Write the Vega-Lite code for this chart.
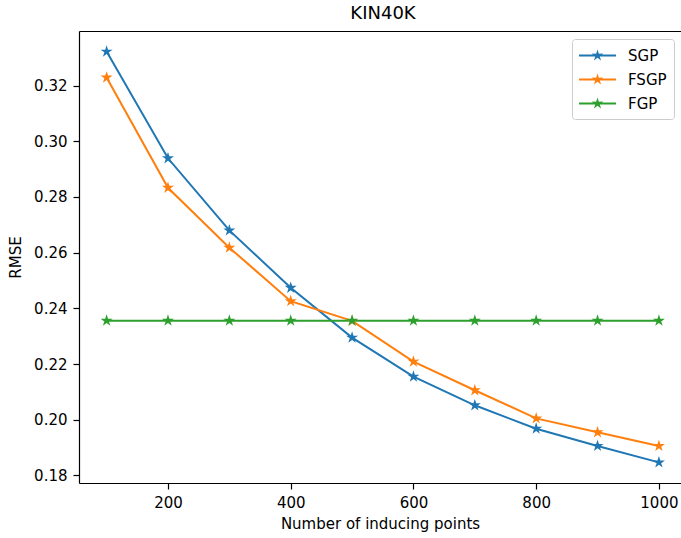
{
  "$schema": "https://vega.github.io/schema/vega-lite/v6.json",
  "width": 602,
  "height": 452,
  "autosize": {"type": "none"},
  "padding": {"left": 79, "top": 31, "right": 0, "bottom": 55},
  "background": "white",
  "title": {"text": "KIN40K", "font": "DejaVu Sans", "fontSize": 18, "fontWeight": "normal", "color": "black", "offset": 8, "dx": 3},
  "config": {
    "view": {"stroke": null},
    "font": "DejaVu Sans",
    "axis": {
      "grid": false,
      "domainColor": "black",
      "domainWidth": 1.2,
      "tickColor": "black",
      "tickWidth": 1.2,
      "tickSize": 6,
      "labelColor": "black",
      "labelFont": "DejaVu Sans",
      "labelFontSize": 15,
      "titleFont": "DejaVu Sans",
      "titleFontSize": 15,
      "titleFontWeight": "normal",
      "titleColor": "black"
    }
  },
  "data": {
    "values": [
      {"n": 100, "method": "SGP", "rmse": 0.3322},
      {"n": 200, "method": "SGP", "rmse": 0.2939},
      {"n": 300, "method": "SGP", "rmse": 0.2680},
      {"n": 400, "method": "SGP", "rmse": 0.2474},
      {"n": 500, "method": "SGP", "rmse": 0.2295},
      {"n": 600, "method": "SGP", "rmse": 0.2155},
      {"n": 700, "method": "SGP", "rmse": 0.2052},
      {"n": 800, "method": "SGP", "rmse": 0.1968},
      {"n": 900, "method": "SGP", "rmse": 0.1906},
      {"n": 1000, "method": "SGP", "rmse": 0.1847},
      {"n": 100, "method": "FSGP", "rmse": 0.3229},
      {"n": 200, "method": "FSGP", "rmse": 0.2833},
      {"n": 300, "method": "FSGP", "rmse": 0.2618},
      {"n": 400, "method": "FSGP", "rmse": 0.2426},
      {"n": 500, "method": "FSGP", "rmse": 0.2355},
      {"n": 600, "method": "FSGP", "rmse": 0.2209},
      {"n": 700, "method": "FSGP", "rmse": 0.2106},
      {"n": 800, "method": "FSGP", "rmse": 0.2005},
      {"n": 900, "method": "FSGP", "rmse": 0.1955},
      {"n": 1000, "method": "FSGP", "rmse": 0.1906},
      {"n": 100, "method": "FGP", "rmse": 0.2356},
      {"n": 200, "method": "FGP", "rmse": 0.2356},
      {"n": 300, "method": "FGP", "rmse": 0.2356},
      {"n": 400, "method": "FGP", "rmse": 0.2356},
      {"n": 500, "method": "FGP", "rmse": 0.2356},
      {"n": 600, "method": "FGP", "rmse": 0.2356},
      {"n": 700, "method": "FGP", "rmse": 0.2356},
      {"n": 800, "method": "FGP", "rmse": 0.2356},
      {"n": 900, "method": "FGP", "rmse": 0.2356},
      {"n": 1000, "method": "FGP", "rmse": 0.2356}
    ]
  },
  "encoding": {
    "y": {
      "field": "rmse", "type": "quantitative",
      "scale": {"domain": [0.1773, 0.3396], "zero": false, "nice": false},
      "axis": {"title": "RMSE", "values": [0.18, 0.20, 0.22, 0.24, 0.26, 0.28, 0.30, 0.32], "format": ".2f", "labelPadding": 6, "titlePadding": 10}
    },
    "color": {
      "field": "method", "type": "nominal",
      "scale": {"domain": ["SGP", "FSGP", "FGP"], "range": ["#1f77b4", "#ff7f0e", "#2ca02c"]},
      "legend": {
        "title": null,
        "orient": "none",
        "legendX": 493,
        "legendY": 8,
        "strokeColor": "#cccccc",
        "fillColor": "white",
        "cornerRadius": 3,
        "padding": 7,
        "labelFont": "DejaVu Sans",
        "labelFontSize": 15,
        "labelColor": "black",
        "symbolType": "M-2,-0.108L2,-0.108L2,0.108L-2,0.108Z M0,-0.66L0.147,-0.202L0.627,-0.205L0.238,0.077L0.387,0.535L0,0.251L-0.387,0.535L-0.238,0.077L-0.627,-0.205L-0.147,-0.202Z",
        "symbolSize": 342,
        "symbolOffset": 9,
        "symbolStrokeWidth": 0,
        "labelOffset": 21,
        "rowPadding": 6,
        "encode": {"symbols": {"update": {"fill": {"scale": "color", "field": "value"}, "strokeWidth": {"value": 0}, "opacity": {"value": 1}}}}
      }
    }
  },
  "layer": [
    {
      "mark": {"type": "line", "strokeWidth": 2},
      "encoding": {
        "x": {
          "field": "n", "type": "quantitative",
          "scale": {"domain": [55, 1036], "nice": false, "zero": false},
          "axis": {"title": "Number of inducing points", "values": [200, 400, 600, 800, 1000], "format": "d", "labelPadding": 6, "titlePadding": 6}
        }
      }
    },
    {
      "mark": {"type": "point", "filled": true, "opacity": 1, "size": 160, "shape": "M0,-1L0.223,-0.307L0.951,-0.309L0.361,0.117L0.588,0.809L0,0.38L-0.588,0.809L-0.361,0.117L-0.951,-0.309L-0.223,-0.307Z"},
      "encoding": {
        "x": {
          "field": "n", "type": "quantitative",
          "axis": {"orient": "top", "title": null, "labels": false, "ticks": false, "domain": true}
        }
      }
    }
  ],
  "resolve": {"axis": {"x": "independent"}}
}
